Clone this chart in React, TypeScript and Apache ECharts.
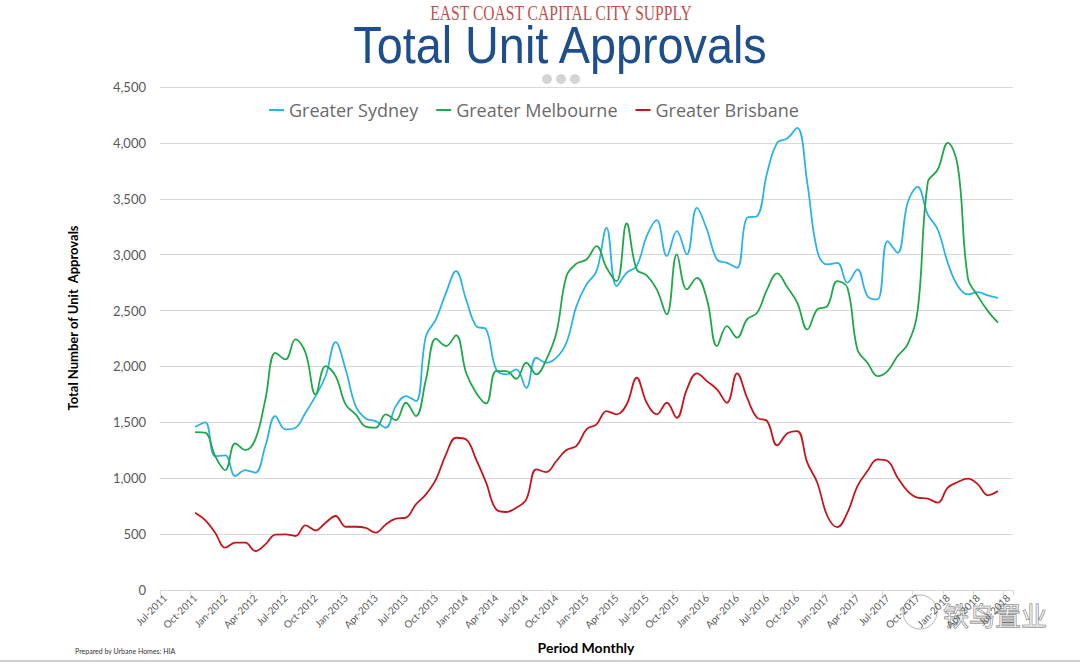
import React, { useEffect, useRef } from "react";
import * as echarts from "echarts";

const MONTHS: string[] = [
  "Jul-2011", "Aug-2011", "Sep-2011", "Oct-2011", "Nov-2011", "Dec-2011",
  "Jan-2012", "Feb-2012", "Mar-2012", "Apr-2012", "May-2012", "Jun-2012", "Jul-2012", "Aug-2012", "Sep-2012", "Oct-2012", "Nov-2012", "Dec-2012",
  "Jan-2013", "Feb-2013", "Mar-2013", "Apr-2013", "May-2013", "Jun-2013", "Jul-2013", "Aug-2013", "Sep-2013", "Oct-2013", "Nov-2013", "Dec-2013",
  "Jan-2014", "Feb-2014", "Mar-2014", "Apr-2014", "May-2014", "Jun-2014", "Jul-2014", "Aug-2014", "Sep-2014", "Oct-2014", "Nov-2014", "Dec-2014",
  "Jan-2015", "Feb-2015", "Mar-2015", "Apr-2015", "May-2015", "Jun-2015", "Jul-2015", "Aug-2015", "Sep-2015", "Oct-2015", "Nov-2015", "Dec-2015",
  "Jan-2016", "Feb-2016", "Mar-2016", "Apr-2016", "May-2016", "Jun-2016", "Jul-2016", "Aug-2016", "Sep-2016", "Oct-2016", "Nov-2016", "Dec-2016",
  "Jan-2017", "Feb-2017", "Mar-2017", "Apr-2017", "May-2017", "Jun-2017", "Jul-2017", "Aug-2017", "Sep-2017", "Oct-2017", "Nov-2017", "Dec-2017",
  "Jan-2018", "Feb-2018", "Mar-2018", "Apr-2018", "May-2018", "Jun-2018", "Jul-2018",
];

// First data month is Oct-2011
const FIRST_DATA_MONTH = "Oct-2011";

const SYDNEY: number[] = [
  1458, 1500, 1198, 1204, 1020, 1073, 1049, 1288, 1556, 1437, 1452, 1586, 1735, 1914, 2218, 1973, 1645, 1535,
  1511, 1452, 1645, 1735, 1690, 2271, 2421, 2659, 2853, 2600, 2361, 2331, 1973, 1929, 1973, 1809, 2078, 2033, 2078, 2212,
  2540,
  2734, 2853, 3240, 2719, 2838, 2898, 3166, 3309, 2987, 3211, 3002, 3419, 3225, 2957, 2927, 2883, 3330, 3345, 3732, 4000,
  4040,
  4134, 3643, 3032, 2913, 2927, 2749, 2868, 2629, 2600, 3121, 3017, 3464, 3607, 3360, 3225, 2927, 2719, 2644, 2665, 2635, 2614,
];

const MELBOURNE: number[] = [
  1413, 1407, 1198, 1073, 1312, 1252, 1347, 1705, 2122, 2063, 2242, 2122, 1750, 2003, 1914, 1660, 1571, 1462,
  1452, 1571, 1520, 1675, 1556, 1884, 2248, 2182, 2278, 1944, 1765, 1669, 1959, 1959, 1890, 2033, 1929, 2063, 2301, 2808,
  2920,
  2957, 3076, 2883, 2763, 3279, 2868, 2814, 2689, 2465, 3002, 2689, 2793, 2600, 2182, 2361, 2257, 2421, 2480, 2689, 2832,
  2710,
  2570, 2331, 2510, 2540, 2763, 2704, 2152, 2033, 1914, 1959, 2093, 2197, 2500, 3643, 3762, 4000, 3792, 2793, 2629, 2495, 2391,
];

const BRISBANE: number[] = [
  692, 626, 513, 379, 423, 423, 349, 408, 495, 498, 483, 578, 534, 602, 662, 566, 566, 555,
  513, 587, 638, 647, 766, 856, 990, 1213, 1362, 1347, 1169, 960, 721, 698, 736, 811, 1079, 1055, 1154, 1252,
  1290,
  1437, 1482, 1601, 1571, 1660, 1899, 1675, 1571, 1675, 1541, 1795, 1938, 1869, 1795, 1675, 1938, 1720, 1541, 1511, 1294,
  1400,
  1422, 1139, 960, 662, 563, 692, 930, 1064, 1169, 1154, 1005, 885, 826, 817, 781, 915, 966, 996, 945, 847, 885,
];

const SERIES_NAMES = ["Greater Sydney", "Greater Melbourne", "Greater Brisbane"];
const SERIES_COLORS = ["#2db2e6", "#22a64b", "#c3161c"];
const Y_TICKS = [0, 500, 1000, 1500, 2000, 2500, 3000, 3500, 4000, 4500];

function toPairs(values: number[]) {
  const start = MONTHS.indexOf(FIRST_DATA_MONTH);
  return values.map((v, i) => [MONTHS[start + i], v]);
}

export default function App() {
  const ref = useRef<HTMLDivElement>(null);

  useEffect(() => {
    document.body.style.margin = "0";
    const chart = echarts.init(ref.current!, null, { renderer: "svg" });
    const font = "Lato, 'Open Sans', sans-serif";
    const option: any = {
      animation: false,
      backgroundColor: "#ffffff",
      grid: { left: 160, right: 67, top: 87, bottom: 74, containLabel: false },
      legend: {
        data: SERIES_NAMES,
        left: 264,
        top: 96,
        icon: "rect",
        itemWidth: 15,
        itemHeight: 2,
        itemGap: 18,
        textStyle: { color: "#6a6a6a", fontSize: 18, fontFamily: "'Open Sans', sans-serif" },
      },
      xAxis: {
        type: "category",
        data: MONTHS,
        boundaryGap: true,
        axisLine: { show: true, lineStyle: { color: "#d9d9d9", width: 1 } },
        axisTick: { show: true, interval: 2, length: 5, lineStyle: { color: "#d9d9d9" } },
        axisLabel: {
          interval: 2,
          rotate: 45,
          fontSize: 10,
          color: "#595959",
          fontFamily: font,
          margin: 6,
        },
        splitLine: { show: false },
      },
      yAxis: {
        type: "value",
        min: Y_TICKS[0],
        max: Y_TICKS[Y_TICKS.length - 1],
        interval: 500,
        axisLine: { show: false },
        axisTick: { show: false },
        axisLabel: {
          fontSize: 13,
          color: "#595959",
          fontFamily: font,
          margin: 14,
          formatter: (v: number) => v.toLocaleString("en-US"),
        },
        splitLine: { lineStyle: { color: "#d9d9d9", width: 1 } },
      },
      series: [SYDNEY, MELBOURNE, BRISBANE].map((vals, i) => ({
        name: SERIES_NAMES[i],
        type: "line",
        data: toPairs(vals),
        smooth: 0.4,
        showSymbol: false,
        symbol: "none",
        lineStyle: { color: SERIES_COLORS[i], width: 1.8 },
        itemStyle: { color: SERIES_COLORS[i] },
      })),
      graphic: [
        {
          type: "text",
          x: 561,
          y: 13,
          scaleX: 0.78,
          style: {
            text: "EAST COAST CAPITAL CITY SUPPLY",
            fill: "#c0504d",
            font: "20px 'Liberation Serif', serif",
            textAlign: "center",
            textVerticalAlign: "middle",
          },
        },
        {
          type: "text",
          x: 560,
          y: 45,
          scaleX: 0.9,
          style: {
            text: "Total Unit Approvals",
            fill: "#1f4e8c",
            font: "52px 'Liberation Sans', Arial, sans-serif",
            textAlign: "center",
            textVerticalAlign: "middle",
          },
        },
        { type: "circle", shape: { cx: 547, cy: 79, r: 5 }, style: { fill: "#d4d4d4" } },
        { type: "circle", shape: { cx: 561, cy: 79, r: 5 }, style: { fill: "#d4d4d4" } },
        { type: "circle", shape: { cx: 575, cy: 79, r: 5 }, style: { fill: "#d4d4d4" } },
        {
          type: "text",
          x: 73,
          y: 318,
          rotation: Math.PI / 2,
          style: {
            text: "Total Number of Unit  Approvals",
            fill: "#000000",
            font: "bold 13px " + font,
            textAlign: "center",
            textVerticalAlign: "middle",
          },
        },
        {
          type: "text",
          x: 586,
          y: 647,
          style: {
            text: "Period Monthly",
            fill: "#000000",
            font: "bold 14px " + font,
            textAlign: "center",
            textVerticalAlign: "middle",
          },
        },
        {
          type: "text",
          x: 75,
          y: 651,
          style: {
            text: "Prepared by Urbane Homes: HIA",
            fill: "#333333",
            font: "7px " + font,
            textAlign: "left",
            textVerticalAlign: "middle",
          },
        },
        {
          type: "line",
          shape: { x1: 0, y1: 661, x2: 1080, y2: 661 },
          style: { stroke: "#d0d0d0", lineWidth: 2 },
        },
        {
          type: "circle",
          shape: { cx: 920, cy: 612, r: 17 },
          style: { fill: "none", stroke: "#b0b0b0", lineWidth: 1 },
        },
        {
          type: "text",
          x: 995,
          y: 614,
          style: {
            text: "铁鸟置业",
            fill: "rgba(255,255,255,0.5)",
            stroke: "#707070",
            lineWidth: 0.8,
            font: "26px 'Noto Sans CJK SC', sans-serif",
            textAlign: "center",
            textVerticalAlign: "middle",
          },
        },
      ],
    };
    chart.setOption(option);
    return () => chart.dispose();
  }, []);

  return (
    <div
      ref={ref}
      style={{ position: "absolute", left: 0, top: 0, width: 1080, height: 664 }}
    />
  );
}
